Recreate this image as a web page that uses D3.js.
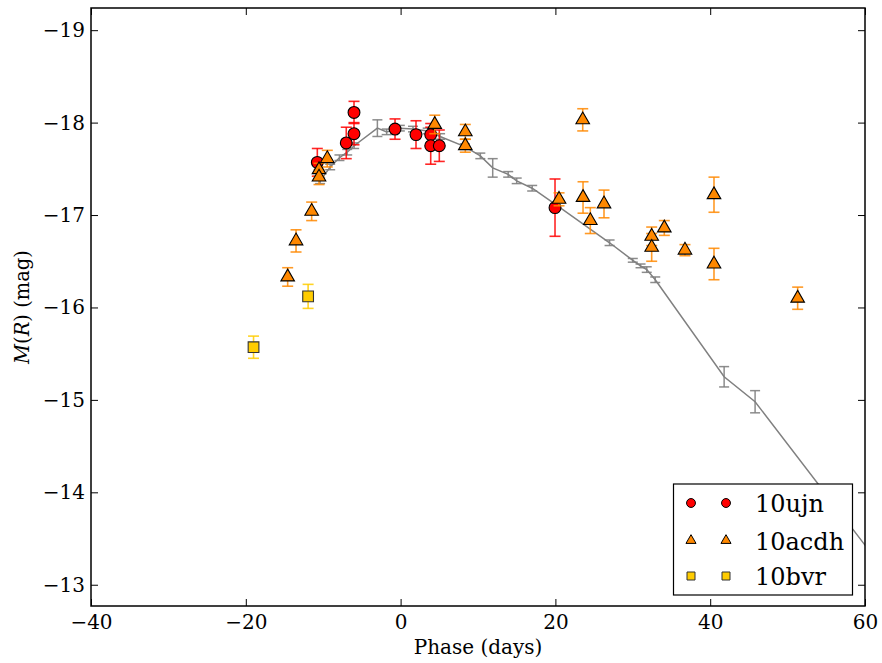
<!DOCTYPE html>
<html>
<head>
<meta charset="utf-8">
<script src="https://cdn.jsdelivr.net/npm/d3@7"></script>
<style>
  body { margin: 0; background: #fff; }
  svg { display: block; }
  text { font-family: "DejaVu Serif", serif; }
</style>
</head>
<body>
<svg id="chart" width="882" height="663"></svg>
<script>
// ---- data ----
const xTicks = [-40, -20, 0, 20, 40, 60];
const yTicks = [-19, -18, -17, -16, -15, -14, -13];

const tplPhase = [-10.4, -9.1, -7.9, -6.9, -6.0, -3.0, -1.8, -0.1, 1.6, 3.5, 5.1, 8.3, 10.3, 11.9, 13.9, 15.0, 17.0, 20.1, 27.0, 30.0, 31.0, 31.8, 32.9, 41.8, 45.8, 62.0];
const tplMag   = [-17.37, -17.52, -17.62, -17.68, -17.75, -17.94, -17.90, -17.94, -17.93, -17.91, -17.85, -17.74, -17.64, -17.51, -17.44, -17.37, -17.29, -17.11, -16.70, -16.51, -16.45, -16.41, -16.30, -15.25, -14.98, -13.21];
const tplErr   = [0.03, 0.03, 0.03, 0.03, 0.03, 0.09, 0.03, 0.03, 0.03, 0.03, 0.03, 0.03, 0.03, 0.10, 0.03, 0.03, 0.03, 0.03, 0.03, 0.02, 0.02, 0.03, 0.03, 0.11, 0.12, null];

const ujnPhase = [-10.76, -7.02, -6.02, -6.02, -0.72, 1.99, 3.89, 3.89, 5.0, 19.95];
const ujnMag   = [-17.57, -17.78, -17.88, -18.11, -17.93, -17.87, -17.87, -17.75, -17.75, -17.08];
const ujnErr   = [0.15, 0.17, 0.12, 0.12, 0.11, 0.15, 0.12, 0.20, 0.17, 0.31];

const acdhPhase = [-14.59, -13.51, -11.49, -10.54, -10.54, -9.47, 4.41, 8.36, 8.36, 20.47, 23.53, 23.57, 24.51, 26.28, 32.44, 32.44, 34.07, 36.74, 40.49, 40.49, 51.3];
const acdhMag   = [-16.33, -16.72, -17.04, -17.49, -17.41, -17.61, -17.98, -17.90, -17.75, -17.17, -18.03, -17.19, -16.94, -17.12, -16.77, -16.65, -16.86, -16.62, -17.22, -16.47, -16.10];
const acdhErr   = [0.10, 0.12, 0.10, 0.07, 0.08, 0.09, 0.10, 0.08, 0.07, 0.07, 0.12, 0.17, 0.14, 0.15, 0.10, 0.15, 0.08, 0.06, 0.19, 0.17, 0.12];

const bvrPhase = [-19.0, -11.95];
const bvrMag   = [-15.57, -16.12];
const bvrErr   = [0.12, 0.13];

const seriesNames = ["10ujn", "10acdh", "10bvr"];

// ---- layout ----
const L = 91, R = 865, T = 8, B = 606;
const svg = d3.select("#chart");
const x = d3.scaleLinear().domain([-40, 60]).range([L, R]);
const y = d3.scaleLinear().domain([-19.24, -12.77]).range([T, B]);

svg.append("defs").append("clipPath").attr("id", "clip")
  .append("rect").attr("x", L).attr("y", T).attr("width", R - L).attr("height", B - T);

const plot = svg.append("g").attr("clip-path", "url(#clip)");

function zip(px, py, pe) { return px.map((d, i) => ({x: d, y: py[i], e: pe[i]})); }

function errorBars(g, data, color, capHalf, width, opacity) {
  const eb = g.append("g").attr("stroke", color).attr("stroke-width", width).attr("stroke-opacity", opacity).attr("fill", "none");
  data.filter(d => d.e != null).forEach(d => {
    const cx = x(d.x), y1 = y(d.y - d.e), y2 = y(d.y + d.e);
    eb.append("line").attr("x1", cx).attr("x2", cx).attr("y1", y1).attr("y2", y2);
    eb.append("line").attr("x1", cx - capHalf).attr("x2", cx + capHalf).attr("y1", y1).attr("y2", y1);
    eb.append("line").attr("x1", cx - capHalf).attr("x2", cx + capHalf).attr("y1", y2).attr("y2", y2);
  });
}

// template
const tpl = zip(tplPhase, tplMag, tplErr);
plot.append("path").datum(tpl)
  .attr("d", d3.line().x(d => x(d.x)).y(d => y(d.y)))
  .attr("fill", "none").attr("stroke", "#808080").attr("stroke-width", 1.5);
errorBars(plot, tpl, "#808080", 5, 1.5, 0.9);

const series = [
  {data: zip(ujnPhase, ujnMag, ujnErr), sym: d3.symbolCircle, size: 110, fill: "#ff0000", err: "#ff0000", stroke: "#000", lsize: 62},
  {data: zip(acdhPhase, acdhMag, acdhErr), sym: d3.symbolTriangle, size: 80, fill: "#ff8800", err: "#ff8800", stroke: "#000", lsize: 44},
  {data: zip(bvrPhase, bvrMag, bvrErr), sym: d3.symbolSquare, size: 115, fill: "#ffcc00", err: "#ffcc00", stroke: "#333", lsize: 64}
];

series.forEach(s => {
  errorBars(plot, s.data, s.err, 5.5, 1.6, 0.85);
  plot.append("g").selectAll("path").data(s.data).join("path")
    .attr("transform", d => `translate(${x(d.x)},${y(d.y)})`)
    .attr("d", d3.symbol().type(s.sym).size(s.size))
    .attr("fill", s.fill).attr("stroke", s.stroke).attr("stroke-width", 1.1);
});

// ---- axes ----
const fmt = d3.format("d");
const ax = (sel) => { sel.select(".domain").remove(); sel.selectAll("line").attr("stroke", "#000").attr("stroke-width", 1); sel.selectAll("text").attr("font-family", "DejaVu Serif").attr("font-size", 20).attr("fill", "#000"); };

svg.append("g").attr("transform", `translate(0,${B})`)
  .call(d3.axisBottom(x).tickValues(xTicks).tickFormat(fmt).tickSizeInner(-7).tickSizeOuter(0).tickPadding(9)).call(ax);
svg.append("g").attr("transform", `translate(0,${T})`)
  .call(d3.axisTop(x).tickValues(xTicks).tickFormat("").tickSizeInner(-7).tickSizeOuter(0)).call(ax);
svg.append("g").attr("transform", `translate(${L},0)`)
  .call(d3.axisLeft(y).tickValues(yTicks).tickFormat(fmt).tickSizeInner(-7).tickSizeOuter(0).tickPadding(6)).call(ax);
svg.append("g").attr("transform", `translate(${R},0)`)
  .call(d3.axisRight(y).tickValues(yTicks).tickFormat("").tickSizeInner(-7).tickSizeOuter(0)).call(ax);

svg.append("rect").attr("x", L).attr("y", T).attr("width", R - L).attr("height", B - T)
  .attr("fill", "none").attr("stroke", "#000").attr("stroke-width", 1.5);

// axis labels
svg.append("text").attr("x", (L + R) / 2).attr("y", 654).attr("text-anchor", "middle")
  .attr("font-size", 20).text("Phase (days)");
const yl = svg.append("text").attr("transform", `translate(29,${(T + B) / 2}) rotate(-90)`)
  .attr("text-anchor", "middle").attr("font-size", 19.5);
yl.append("tspan").attr("font-style", "italic").text("M");
yl.append("tspan").text("(");
yl.append("tspan").attr("font-style", "italic").text("R");
yl.append("tspan").text(") (mag)");

// ---- legend ----
const lg = svg.append("g");
lg.append("rect").attr("x", 673.5).attr("y", 484).attr("width", 179).attr("height", 111)
  .attr("fill", "#fff").attr("stroke", "#000").attr("stroke-width", 1.2);
const rowsY = [503, 540.5, 576];
series.forEach((s, i) => {
  [691, 726].forEach(cx => {
    lg.append("path").attr("transform", `translate(${cx},${rowsY[i]})`)
      .attr("d", d3.symbol().type(s.sym).size(s.lsize))
      .attr("fill", s.fill).attr("stroke", s.stroke).attr("stroke-width", 1);
  });
  lg.append("text").attr("x", 755).attr("y", rowsY[i] + 9).attr("font-size", 24).text(seriesNames[i]);
});
</script>
</body>
</html>
